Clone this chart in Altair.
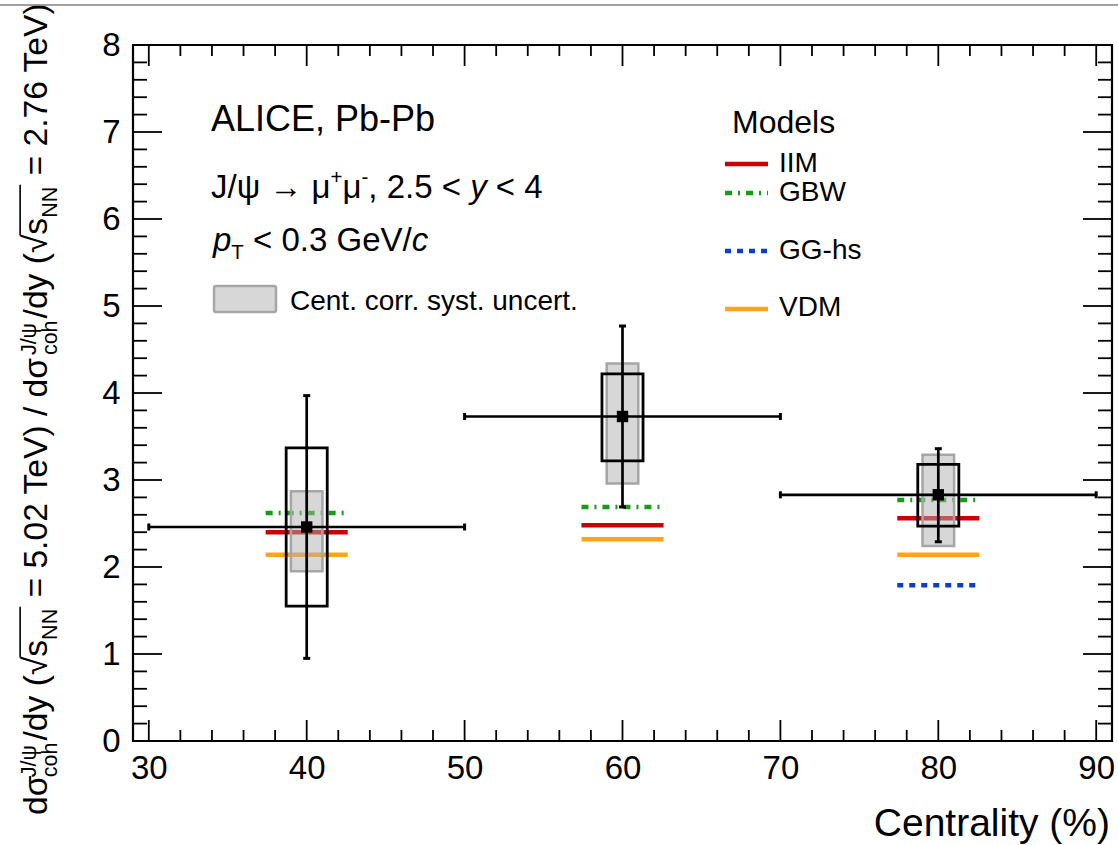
import altair as alt
import pandas as pd

FONT = "Liberation Sans"

# ---------------- data ----------------
centrality = [40, 60, 80]
cent_low = [30, 50, 70]
cent_high = [50, 70, 90]
ratio = [2.46, 3.73, 2.83]
stat_low = [0.95, 2.69, 2.29]
stat_high = [3.97, 4.77, 3.36]
syst_low = [1.55, 3.22, 2.47]
syst_high = [3.37, 4.22, 3.18]
corr_low = [1.95, 2.96, 2.24]
corr_high = [2.87, 4.34, 3.29]

model_names = ["IIM", "GBW", "GG-hs", "VDM"]
iim_values = [2.40, 2.48, 2.56]
gbw_values = [2.62, 2.69, 2.77]
gghs_values = [None, None, 1.79]
vdm_values = [2.14, 2.32, 2.14]

x_major = [30, 40, 50, 60, 70, 80, 90]
y_major = [0, 1, 2, 3, 4, 5, 6, 7, 8]

# ---------------- styles ----------------
model_colors = {"IIM": "#cc0000", "GBW": "#1a9a1a", "GG-hs": "#0a3ccf", "VDM": "#ffa31a"}
model_dash = {"IIM": None, "GBW": [7, 6, 2, 6], "GG-hs": [6, 6], "VDM": None}
MODEL_HALF = 2.6
SYST_HALF = 1.3
CORR_HALF = 1.0
GREY_FILL = dict(fill="#b0b0b0", fillOpacity=0.5, stroke="#a6a6a6", strokeWidth=2.5)

W, H = 979, 696
xs = alt.Scale(domain=[29, 91], nice=False, zero=False)
ys = alt.Scale(domain=[0, 8], nice=False, zero=False)
xaxis = alt.Axis(values=x_major, format="d", ticks=False, domain=False, grid=False,
                 labelFont=FONT, labelFontSize=33, labelColor="black", labelPadding=11,
                 labelFlush=False, labelOverlap=False, title=None)
yaxis = alt.Axis(values=y_major, format="d", ticks=False, domain=False, grid=False,
                 labelFont=FONT, labelFontSize=33, labelColor="black", labelPadding=13,
                 labelFlush=False, labelOverlap=False, title=None)


def X(f):
    return alt.X(f, type="quantitative", scale=xs, axis=xaxis)


def Y(f):
    return alt.Y(f, type="quantitative", scale=ys, axis=yaxis)


df = pd.DataFrame({
    "cent": centrality, "lo": cent_low, "hi": cent_high, "r": ratio,
    "slo": stat_low, "shi": stat_high, "ylo": syst_low, "yhi": syst_high,
    "clo": corr_low, "chi": corr_high,
})
df["bl"] = df["cent"] - SYST_HALF
df["br"] = df["cent"] + SYST_HALF
df["gl"] = df["cent"] - CORR_HALF
df["gr"] = df["cent"] + CORR_HALF

layers = []

# model predictions
model_vals = {"IIM": iim_values, "GBW": gbw_values, "GG-hs": gghs_values, "VDM": vdm_values}
for name in model_names:
    rows = [(c, v) for c, v in zip(centrality, model_vals[name]) if v is not None]
    mdf = pd.DataFrame(rows, columns=["cent", "v"])
    mdf["xl"] = mdf["cent"] - MODEL_HALF
    mdf["xr"] = mdf["cent"] + MODEL_HALF
    kw = dict(color=model_colors[name], strokeWidth=4.5)
    if model_dash[name]:
        kw["strokeDash"] = model_dash[name]
    layers.append(alt.Chart(mdf).mark_rule(**kw).encode(x=X("xl"), x2="xr", y=Y("v")))

# centrality-correlated systematic (grey)
layers.append(alt.Chart(df).mark_rect(**GREY_FILL).encode(x=X("gl"), x2="gr", y=Y("clo"), y2="chi"))
# uncorrelated systematic (open boxes)
layers.append(alt.Chart(df).mark_rect(fillOpacity=0, stroke="black", strokeWidth=2.8)
              .encode(x=X("bl"), x2="br", y=Y("ylo"), y2="yhi"))
# stat error bars
layers.append(alt.Chart(df).mark_rule(color="black", strokeWidth=2.7)
              .encode(x=X("cent"), y=Y("slo"), y2="shi"))
# centrality bin width
layers.append(alt.Chart(df).mark_rule(color="black", strokeWidth=2.7)
              .encode(x=X("lo"), x2="hi", y=Y("r")))
# caps
vcaps = pd.DataFrame({"cent": centrality * 2, "y": stat_low + stat_high})
layers.append(alt.Chart(vcaps).mark_tick(orient="horizontal", size=7, thickness=3, color="black", opacity=1)
              .encode(x=X("cent"), y=Y("y")))
hcaps = pd.DataFrame({"x": cent_low + cent_high, "y": ratio * 2})
layers.append(alt.Chart(hcaps).mark_tick(orient="vertical", size=7, thickness=3, color="black", opacity=1)
              .encode(x=X("x"), y=Y("y")))
# markers
layers.append(alt.Chart(df).mark_square(size=130, color="black", opacity=1, filled=True)
              .encode(x=X("cent"), y=Y("r")))

# ---------------- frame ticks (inside, ROOT style) ----------------
x_minor = [v for v in range(30, 91, 2) if v % 10 != 0]
y_minor = [round(i * 0.2, 1) for i in range(0, 41) if i % 5 != 0]
TK = dict(color="black", strokeWidth=1.8)
xmaj = pd.DataFrame({"v": x_major})
xmin = pd.DataFrame({"v": x_minor})
ymaj = pd.DataFrame({"v": y_major})
ymin = pd.DataFrame({"v": y_minor})
for d, L in ((xmaj, 21), (xmin, 11)):
    layers.append(alt.Chart(d).mark_rule(**TK).encode(x=X("v"), y=alt.value(H), y2=alt.value(H - L)))
    layers.append(alt.Chart(d).mark_rule(**TK).encode(x=X("v"), y=alt.value(0), y2=alt.value(L)))
for d, L in ((ymaj, 29), (ymin, 14)):
    layers.append(alt.Chart(d).mark_rule(**TK).encode(y=Y("v"), x=alt.value(0), x2=alt.value(L)))
    layers.append(alt.Chart(d).mark_rule(**TK).encode(y=Y("v"), x=alt.value(W), x2=alt.value(W - L)))

# ---------------- text helpers ----------------
ONE = pd.DataFrame({"a": [0]})
WID = {' ': 278, '(': 333, ')': 333, '%': 889, '+': 584, ',': 278, '-': 333, '.': 278, '/': 278,
       '<': 584, '=': 584, '>': 584, 'σ': 571, 'ψ': 712, 'μ': 576, '√': 549, '→': 1000}
for ch in "0123456789":
    WID[ch] = 556
WID.update({'A': 667, 'B': 667, 'C': 722, 'D': 722, 'E': 667, 'F': 611, 'G': 778, 'H': 722, 'I': 278,
            'J': 500, 'K': 667, 'L': 556, 'M': 833, 'N': 722, 'O': 778, 'P': 667, 'Q': 778, 'R': 722,
            'S': 667, 'T': 611, 'U': 722, 'V': 667, 'W': 944, 'X': 667, 'Y': 667, 'Z': 611,
            'a': 556, 'b': 556, 'c': 500, 'd': 556, 'e': 556, 'f': 278, 'g': 556, 'h': 556, 'i': 222,
            'j': 222, 'k': 500, 'l': 222, 'm': 833, 'n': 556, 'o': 556, 'p': 556, 'q': 556, 'r': 333,
            's': 500, 't': 278, 'u': 556, 'v': 500, 'w': 722, 'x': 500, 'y': 500, 'z': 500})


def tw(s, size):
    return sum(WID.get(c, 556) for c in s) / 1000.0 * size


def txt(t, x, y, size, style="normal", angle=0, align="left", color="black"):
    layers.append(alt.Chart(ONE).mark_text(align=align, baseline="alphabetic", font=FONT, fontSize=size,
                                            fontStyle=style, angle=angle, color=color)
                  .encode(x=alt.value(x), y=alt.value(y), text=alt.value(t)))


def lead(t, size):
    """SVG drops leading blanks: return stripped text and the width of the blanks."""
    s = t.lstrip(" ")
    return s, tw(t[:len(t) - len(s)], size)


def hseq(parts, x0, y0, size):
    small = size * 0.62
    x = x0
    for t, kind in parts:
        sz = small if kind in ("sup", "sub") else size
        s, pre = lead(t, sz)
        x += pre
        if kind == "n":
            txt(s, x, y0, size)
        elif kind == "i":
            txt(s, x, y0, size, style="italic")
        elif kind == "sup":
            txt(s, x, y0 - 0.42 * size, small)
        elif kind == "sub":
            txt(s, x, y0 + 0.25 * size, small)
        x += tw(s, sz)


# in-plot annotations
txt("ALICE, Pb-Pb", 78, 86, 36)
hseq([("J/ψ → μ", "n"), ("+", "sup"), ("μ", "n"), ("-", "sup"), (", 2.5 < ", "n"), ("y", "i"), (" < 4", "n")],
     78, 153, 33)
hseq([("p", "i"), ("T", "sub"), (" < 0.3 GeV/", "n"), ("c", "i")], 80, 206, 33)
layers.append(alt.Chart(ONE).mark_rect(cornerRadius=2, **GREY_FILL)
              .encode(x=alt.value(81), x2=alt.value(143), y=alt.value(241), y2=alt.value(267)))
txt("Cent. corr. syst. uncert.", 157, 265, 28)

# model legend
txt("Models", 599, 88, 32)
leg_y = {"IIM": 119, "GBW": 148, "GG-hs": 206, "VDM": 264}
leg_ty = {"IIM": 127, "GBW": 156, "GG-hs": 214, "VDM": 271}
for name in model_names:
    kw = dict(color=model_colors[name], strokeWidth=4.5)
    if model_dash[name]:
        kw["strokeDash"] = model_dash[name]
    layers.append(alt.Chart(ONE).mark_rule(**kw)
                  .encode(x=alt.value(592), x2=alt.value(635), y=alt.value(leg_y[name])))
    txt(name, 646, leg_ty[name], 28)

# x-axis title
txt("Centrality (%)", 977, 791, 39, align="right")

# rotated y-axis title
FM = 33.6
FS = 21.5
bx = -86
y = 770
sqrt_spans = []
ytitle = [("dσ", "n"), (("J/ψ", "coh"), "ss"), ("/dy (", "n"), ("√", "rt"), ("s", "n"), ("NN", "sub"),
          (" = 5.02 TeV) / dσ", "n"), (("J/ψ", "coh"), "ss"), ("/dy (", "n"), ("√", "rt"), ("s", "n"),
          ("NN", "sub"), (" = 2.76 TeV)", "n")]
for t, kind in ytitle:
    if kind == "n":
        s, pre = lead(t, FM)
        y -= pre
        txt(s, bx, y, FM, angle=270); y -= tw(s, FM)
    elif kind == "ss":
        txt(t[0], bx - 0.32 * FM, y, FS, angle=270)
        txt(t[1], bx + 0.30 * FM, y, FS, angle=270)
        y -= max(tw(t[0], FS), tw(t[1], FS)) + 2
    elif kind == "rt":
        txt(t, bx, y, FM, angle=270)
        sqrt_spans.append([y - tw(t, FM) * 0.95, None])
        y -= tw(t, FM)
    elif kind == "sub":
        txt(t, bx + 0.30 * FM, y, FS, angle=270); y -= tw(t, FS) + 2
        sqrt_spans[-1][1] = y
for a, b in sqrt_spans:
    layers.append(alt.Chart(ONE).mark_rule(color="black", strokeWidth=1.6)
                  .encode(x=alt.value(bx - 0.80 * FM), y=alt.value(a), y2=alt.value(b)))

# top grey line of the screenshot
layers.append(alt.Chart(ONE).mark_rule(color="#808080", strokeWidth=1.5)
              .encode(x=alt.value(-133), x2=alt.value(985), y=alt.value(-40)))

chart = alt.layer(*layers).properties(
    width=W, height=H,
    padding={"left": 133, "top": 45, "right": 6, "bottom": 104},
    autosize=alt.AutoSizeParams(type="none"),
).configure_view(stroke="black", strokeWidth=2.2)

chart.save("out.html", embed_options={"renderer": "svg", "actions": False})
